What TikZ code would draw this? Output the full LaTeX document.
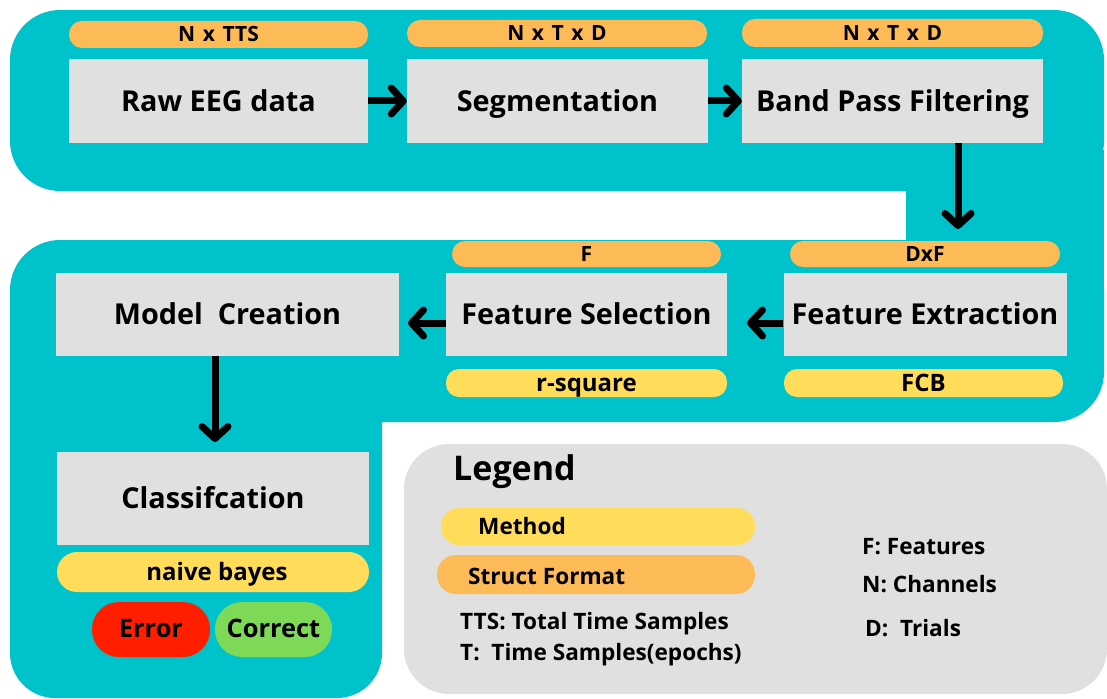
\documentclass[tikz,border=0pt]{standalone}
\usepackage{fontspec}
\setmainfont{Open Sans}
\usetikzlibrary{arrows.meta}
\definecolor{teal1}{HTML}{00C2CB}
\definecolor{boxgray}{HTML}{E0E0E0}
\definecolor{orng}{HTML}{FDBB58}
\definecolor{yllw}{HTML}{FFDD5A}
\definecolor{redc}{HTML}{FF1E00}
\definecolor{grnc}{HTML}{7ED957}
\newcommand{\wsp}{\hspace{0.36em}}
\tikzset{
  stepbox/.style={fill=boxgray, draw=none, inner sep=0pt, text height=26pt, text depth=6pt, font=\bfseries\fontsize{28.8}{32}\selectfont},
  pillbase/.style={draw=none, inner sep=0pt, rounded corners=13pt},
  fmtpill/.style={pillbase, fill=orng, text height=17pt, text depth=2.5pt, font=\bfseries\fontsize{21}{24}\selectfont},
  mthpill/.style={pillbase, fill=yllw, text height=19pt, text depth=3pt, font=\bfseries\fontsize{24}{28}\selectfont},
  flow/.style={line width=7pt, -{Straight Barb[length=12pt, width=26pt, round]}},
  legtext/.style={anchor=west, inner sep=0pt, text height=18pt, text depth=3pt, font=\bfseries\fontsize{22.6}{26}\selectfont}
}
\begin{document}
\begin{tikzpicture}[x=1pt, y=-1pt]
\useasboundingbox (0,0) rectangle (1107,698);
% teal background
\fill[teal1, rounded corners=50pt] (10,10) rectangle (1104,191);
\fill[teal1] (906,150) rectangle (1104,300);
\fill[teal1, rounded corners=50pt] (10,240) rectangle (1104,422);
\fill[teal1, rounded corners=45pt] (10,300) rectangle (382,698);
% legend background
\fill[boxgray, rounded corners=45pt] (404,444) rectangle (1107,694);

% top row
\node[fmtpill, minimum width=299pt, minimum height=27pt] (p1) at (218.5,34.5) {N\wsp x\wsp TTS};
\node[stepbox, minimum width=299pt, minimum height=84pt] (raw) at (218.5,101) {Raw EEG data};
\node[fmtpill, minimum width=300pt, minimum height=27pt] (p2) at (557,33.5) {N\wsp x\wsp T\wsp x\wsp D};
\node[stepbox, minimum width=301pt, minimum height=84pt] (seg) at (557.5,101) {Segmentation};
\node[fmtpill, minimum width=301pt, minimum height=28pt] (p3) at (892.5,33) {N\wsp x\wsp T\wsp x\wsp D};
\node[stepbox, minimum width=301pt, minimum height=84pt] (band) at (892.5,101) {Band Pass Filtering};

% middle row
\node[fmtpill, minimum width=270pt, minimum height=26pt] (p4) at (925,254) {DxF};
\node[stepbox, minimum width=283pt, minimum height=83pt] (fe) at (925,314.5) {Feature Extraction};
\node[mthpill, minimum width=279pt, minimum height=28pt] (m1) at (923.5,383) {FCB};
\node[fmtpill, minimum width=269pt, minimum height=26pt] (p5) at (586.5,254) {F};
\node[stepbox, minimum width=281pt, minimum height=83pt] (fs) at (586.5,314.5) {Feature Selection};
\node[mthpill, minimum width=281pt, minimum height=28pt] (m2) at (586.5,383) {r-square};
\node[stepbox, minimum width=343pt, minimum height=83pt] (mc) at (227.5,314.5) {Model\ \ Creation};

% bottom left
\node[stepbox, minimum width=312pt, minimum height=93pt] (cls) at (213,498.5) {Classifcation};
\node[mthpill, rounded corners=20pt, minimum width=312pt, minimum height=40pt] (m3) at (213,572) {\hspace{8pt}naive bayes};
\node[pillbase, fill=redc, rounded corners=27pt, minimum width=118pt, minimum height=55pt, text height=19pt, text depth=3pt, font=\bfseries\fontsize{25.4}{29}\selectfont] (err) at (151,629.5) {Error};
\node[pillbase, fill=grnc, rounded corners=27pt, minimum width=117pt, minimum height=55pt, text height=19pt, text depth=3pt, font=\bfseries\fontsize{25.4}{29}\selectfont] (cor) at (273.5,629.5) {Correct};

% arrows
\coordinate (a3s) at (958,143);
\coordinate (a3e) at (958,229);
\coordinate (a4e) at (747,323);
\coordinate (a5e) at (408,323);
\coordinate (a6s) at (215,356);
\coordinate (a6e) at (215,442);
\draw[flow] (raw.east) -- (seg.west);
\draw[flow] (seg.east) -- (band.west);
\draw[flow] (a3s) -- (a3e);
\draw[flow] (fe.west |- a4e) -- (a4e);
\draw[flow] (fs.west |- a5e) -- (a5e);
\draw[flow] (a6s) -- (a6e);

% legend
\node[anchor=west, inner sep=0pt, text height=25pt, text depth=6pt, font=\bfseries\fontsize{34}{38}\selectfont] (legtitle) at (453,471) {Legend};
\node[mthpill, rounded corners=18pt, minimum width=314pt, minimum height=37pt] (lm) at (598,526.5) {};
\node[legtext] (lmt) at (478,527) {Method};
\node[fmtpill, rounded corners=19pt, minimum width=318pt, minimum height=39pt] (ls) at (596,574.5) {};
\node[legtext] (lst) at (468,577) {Struct Format};
\node[legtext] (ltts) at (460,622) {TTS: Total Time Samples};
\node[legtext] (lt) at (460,653) {T:\ \ Time Samples(epochs)};
\node[legtext] (lf) at (862,547) {F: Features};
\node[legtext] (ln) at (862,585) {N: Channels};
\node[legtext] (ld) at (865,629) {D:\ \ Trials};
\end{tikzpicture}
\end{document}
